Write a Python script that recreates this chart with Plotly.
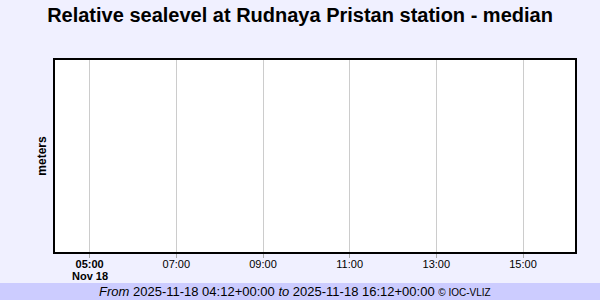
import plotly.graph_objects as go

title_text = "Relative sealevel at Rudnaya Pristan station - median"
y_label = "meters"
x_start = "2025-11-18 04:12"
x_end = "2025-11-18 16:12"
tick_values = ["2025-11-18 05:00", "2025-11-18 07:00", "2025-11-18 09:00",
               "2025-11-18 11:00", "2025-11-18 13:00", "2025-11-18 15:00"]
tick_labels = ["<b>05:00</b>", "07:00", "09:00", "11:00", "13:00", "15:00"]
date_label = "Nov 18"
series_x = []
series_y = []
footer = ("<i>From</i> 2025-11-18 04:12+00:00 <i>to</i> 2025-11-18 16:12+00:00 "
          "<span style='font-size:10px'>© IOC-VLIZ</span>")

W, H = 600, 300
L, R, T, B = 55, 25, 60, 48
pw, ph = W - L - R, H - T - B

fig = go.Figure()
fig.add_trace(go.Scatter(x=series_x, y=series_y, mode="lines",
                         line=dict(color="#0000cc"), showlegend=False))

font_family = "Arial, Liberation Sans, sans-serif"

fig.update_layout(
    width=W, height=H,
    margin=dict(l=L, r=R, t=T, b=B, pad=0),
    paper_bgcolor="#f0f0ff",
    plot_bgcolor="white",
    font=dict(family=font_family, color="black", size=11),
    title=dict(text="<b>" + title_text + "</b>", x=0.5, xanchor="center",
               y=1 - 15 / H, yanchor="middle",
               font=dict(size=20, family=font_family, color="black")),
    xaxis=dict(
        type="date",
        range=[x_start, x_end],
        tickvals=tick_values,
        ticktext=tick_labels,
        tickmode="array",
        ticks="outside", ticklen=4, tickcolor="#aaaaaa", tickwidth=1,
        ticklabelstandoff=-3,
        showgrid=True, gridcolor="#cccccc", gridwidth=1,
        showline=True, linecolor="black", linewidth=2, mirror=True,
        zeroline=False,
        tickfont=dict(size=11, family=font_family, color="black"),
    ),
    yaxis=dict(
        range=[0, 1],
        showticklabels=False, ticks="",
        showgrid=False, zeroline=False,
        showline=True, linecolor="black", linewidth=2, mirror=True,
        title=dict(text="<b>" + y_label + "</b>", standoff=4,
                   font=dict(size=12, family=font_family, color="black")),
    ),
    shapes=[dict(
        type="rect", xref="paper", yref="paper",
        x0=-L / pw, x1=(W - L) / pw,
        y0=-(283 - (T + ph)) / ph, y1=-(H - (T + ph)) / ph,
        fillcolor="#ccccff", line=dict(width=0), layer="below",
    )],
    annotations=[
        dict(
            text=footer, xref="paper", yref="paper",
            x=(295 - L) / pw, y=-(291.5 - (T + ph)) / ph,
            xanchor="center", yanchor="middle", showarrow=False,
            font=dict(size=13, family=font_family, color="black"),
        ),
        dict(
            text="<b>" + date_label + "</b>", xref="x", yref="paper",
            x=tick_values[0], y=-(275.5 - (T + ph)) / ph,
            xanchor="center", yanchor="middle", showarrow=False,
            font=dict(size=11, family=font_family, color="black"),
        ),
    ],
)

fig.write_html("out.html")
